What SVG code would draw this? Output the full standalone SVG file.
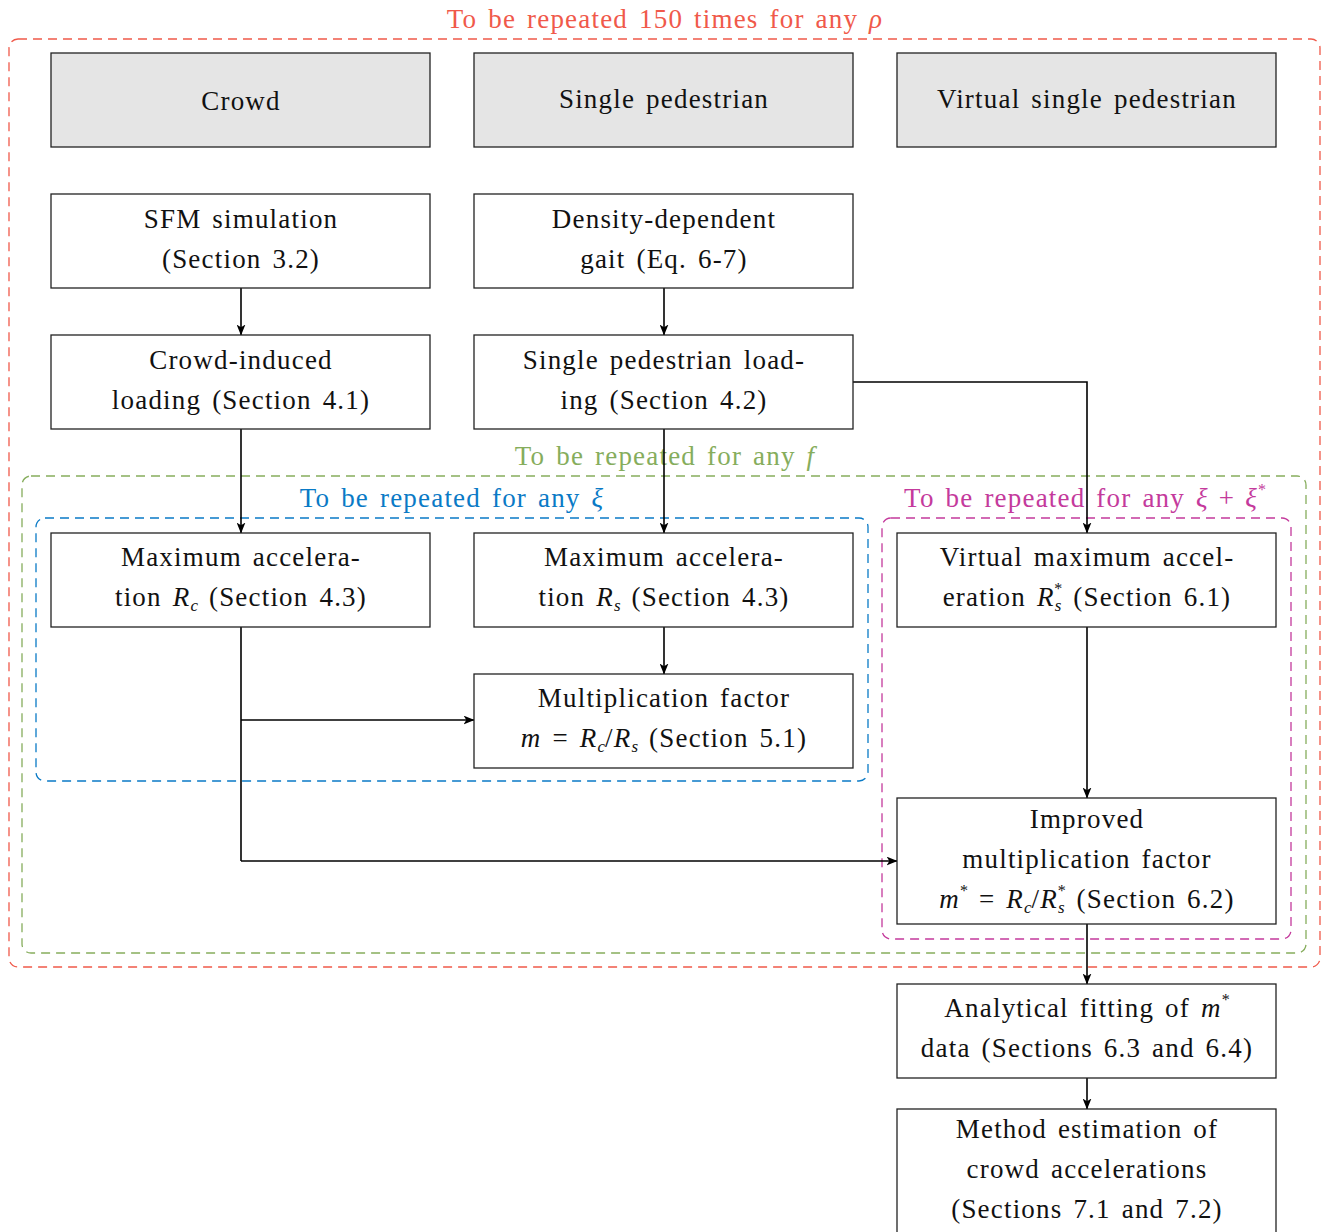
<svg xmlns="http://www.w3.org/2000/svg" width="1321" height="1232" viewBox="0 0 1321 1232">
<defs>
<marker id="arr" viewBox="0 0 10 8" refX="9.5" refY="4" markerWidth="11" markerHeight="9" markerUnits="userSpaceOnUse" orient="auto">
<path d="M0,0 L10,4 L0,8 L2.5,4 Z" fill="#000"/>
</marker>
</defs>
<style>
text{font-family:"Liberation Serif","DejaVu Serif",serif;font-size:27px;letter-spacing:1.2px;word-spacing:3px;fill:#111;text-anchor:middle}
.box{fill:#fff;stroke:#222;stroke-width:1.3}
.hdr{fill:#e5e5e5;stroke:#222;stroke-width:1.3}
.dash{fill:none;stroke-width:1.3;stroke-dasharray:9 6}
.con{fill:none;stroke:#000;stroke-width:1.6}
.i{font-style:italic}
.sub{font-size:17px;font-style:italic;letter-spacing:0}
.sup{font-size:16px;letter-spacing:0}
</style>
<g id="loops">
<rect class="dash" x="9" y="39" width="1311" height="928" rx="9" stroke="#f0594a"/>
<text x="665" y="28" style="fill:#f0594a">To be repeated 150 times for any <tspan class="i">ρ</tspan></text>
<rect class="dash" x="22" y="476" width="1284" height="477" rx="9" stroke="#86ad5c"/>
<text x="665" y="465" style="fill:#86ad5c">To be repeated for any <tspan class="i">f</tspan></text>
<rect class="dash" x="36" y="518" width="832" height="263" rx="9" stroke="#0a7ac6"/>
<text x="452" y="507" style="fill:#0a7ac6">To be repeated for any <tspan class="i">ξ</tspan></text>
<rect class="dash" x="882" y="518" width="409" height="421" rx="9" stroke="#c43a9c"/>
<text x="1085" y="507" style="fill:#c43a9c">To be repeated for any <tspan class="i">ξ</tspan><tspan dx="10">+</tspan><tspan class="i" dx="10">ξ</tspan><tspan class="sup" dy="-12">*</tspan></text>
</g>
<g id="connectors">
<line class="con" x1="241" y1="288" x2="241" y2="335" marker-end="url(#arr)"/>
<line class="con" x1="664" y1="288" x2="664" y2="335" marker-end="url(#arr)"/>
<line class="con" x1="241" y1="429" x2="241" y2="533" marker-end="url(#arr)"/>
<line class="con" x1="664" y1="429" x2="664" y2="533" marker-end="url(#arr)"/>
<polyline class="con" points="853,382 1087,382 1087,533" marker-end="url(#arr)"/>
<line class="con" x1="664" y1="627" x2="664" y2="674" marker-end="url(#arr)"/>
<line class="con" x1="241" y1="627" x2="241" y2="861"/>
<line class="con" x1="241" y1="720" x2="474" y2="720" marker-end="url(#arr)"/>
<line class="con" x1="241" y1="861" x2="897" y2="861" marker-end="url(#arr)"/>
<line class="con" x1="1087" y1="627" x2="1087" y2="798" marker-end="url(#arr)"/>
<line class="con" x1="1087" y1="924" x2="1087" y2="984" marker-end="url(#arr)"/>
<line class="con" x1="1087" y1="1078" x2="1087" y2="1109" marker-end="url(#arr)"/>
</g>
<g id="crowd">
<rect class="hdr" x="51" y="53" width="379" height="94"/>
<text x="241" y="110">Crowd</text>
</g>
<g id="single">
<rect class="hdr" x="474" y="53" width="379" height="94"/>
<text x="664" y="108">Single pedestrian</text>
</g>
<g id="virtual">
<rect class="hdr" x="897" y="53" width="379" height="94"/>
<text x="1087" y="108">Virtual single pedestrian</text>
</g>
<g id="sfm">
<rect class="box" x="51" y="194" width="379" height="94"/>
<text x="241" y="228">SFM simulation</text>
<text x="241" y="268">(Section 3.2)</text>
</g>
<g id="gait">
<rect class="box" x="474" y="194" width="379" height="94"/>
<text x="664" y="228">Density-dependent</text>
<text x="664" y="268">gait (Eq.  6-7)</text>
</g>
<g id="crowdload">
<rect class="box" x="51" y="335" width="379" height="94"/>
<text x="241" y="369">Crowd-induced</text>
<text x="241" y="409">loading (Section 4.1)</text>
</g>
<g id="singleload">
<rect class="box" x="474" y="335" width="379" height="94"/>
<text x="664" y="369">Single pedestrian load-</text>
<text x="664" y="409">ing (Section 4.2)</text>
</g>
<g id="rc">
<rect class="box" x="51" y="533" width="379" height="94"/>
<text x="241" y="566">Maximum accelera-</text>
<text x="241" y="606">tion <tspan class="i">R</tspan><tspan class="sub" dy="5">c</tspan><tspan dy="-5"> (Section 4.3)</tspan></text>
</g>
<g id="rs">
<rect class="box" x="474" y="533" width="379" height="94"/>
<text x="664" y="566">Maximum accelera-</text>
<text x="664" y="606">tion <tspan class="i">R</tspan><tspan class="sub" dy="5">s</tspan><tspan dy="-5"> (Section 4.3)</tspan></text>
</g>
<g id="rsstar">
<rect class="box" x="897" y="533" width="379" height="94"/>
<text x="1087" y="566">Virtual maximum accel-</text>
<text x="1087" y="606">eration <tspan class="i">R</tspan><tspan class="sub" dy="5">s</tspan><tspan class="sup" dx="-7" dy="-17">*</tspan><tspan dy="12"> (Section 6.1)</tspan></text>
</g>
<g id="mult">
<rect class="box" x="474" y="674" width="379" height="94"/>
<text x="664" y="707">Multiplication factor</text>
<text x="664" y="747"><tspan class="i">m</tspan> = <tspan class="i">R</tspan><tspan class="sub" dy="5">c</tspan><tspan dy="-5">/</tspan><tspan class="i">R</tspan><tspan class="sub" dy="5">s</tspan><tspan dy="-5"> (Section 5.1)</tspan></text>
</g>
<g id="improved">
<rect class="box" x="897" y="798" width="379" height="126"/>
<text x="1087" y="828">Improved</text>
<text x="1087" y="868">multiplication factor</text>
<text x="1087" y="908"><tspan class="i">m</tspan><tspan class="sup" dy="-12">*</tspan><tspan dy="12"> = </tspan><tspan class="i">R</tspan><tspan class="sub" dy="5">c</tspan><tspan dy="-5">/</tspan><tspan class="i">R</tspan><tspan class="sub" dy="5">s</tspan><tspan class="sup" dx="-7" dy="-17">*</tspan><tspan dy="12"> (Section 6.2)</tspan></text>
</g>
<g id="fitting">
<rect class="box" x="897" y="984" width="379" height="94"/>
<text x="1087" y="1017">Analytical fitting of <tspan class="i">m</tspan><tspan class="sup" dy="-12">*</tspan></text>
<text x="1087" y="1057">data (Sections 6.3 and 6.4)</text>
</g>
<g id="method">
<rect class="box" x="897" y="1109" width="379" height="140"/>
<text x="1087" y="1138">Method estimation of</text>
<text x="1087" y="1178">crowd accelerations</text>
<text x="1087" y="1218">(Sections 7.1 and 7.2)</text>
</g>
</svg>
